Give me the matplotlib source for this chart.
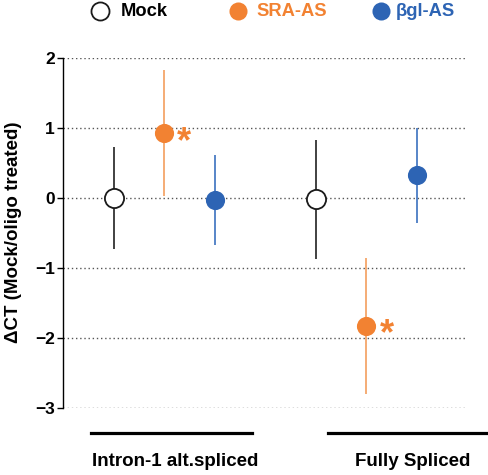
import matplotlib
matplotlib.use('Agg')
import matplotlib.pyplot as plt
from matplotlib.lines import Line2D
import matplotlib.transforms as mtransforms

plt.rcParams['font.family'] = ['Liberation Sans', 'DejaVu Sans']
plt.rcParams['font.weight'] = 'bold'

# dados
grupos = ['Intron-1 alt.spliced', 'Fully Spliced']
series = ['Mock', 'SRA-AS', 'βgl-AS']
mock_media = [0.0, -0.02]
mock_erro = [0.73, 0.85]
sra_media = [0.92, -1.83]
sra_erro = [0.90, 0.97]
bgl_media = [-0.03, 0.32]
bgl_erro = [0.64, 0.68]
significativo = [(1, 0), (1, 1)]  # (serie, grupo) com asterisco
yticks = [2, 1, 0, -1, -2, -3]

medias = [mock_media, sra_media, bgl_media]
erros = [mock_erro, sra_erro, bgl_erro]
cor_marcador = ['white', '#F28232', '#2D64B4']
cor_borda = ['#1a1a1a', '#F28232', '#2D64B4']
cor_barra = ['#333333', '#F5A66A', '#4A7CC4']
cor_texto = ['black', '#F28232', '#2D64B4']

centros = [2, 6]

fig = plt.figure(figsize=(4.89, 4.75), dpi=100)
ax = fig.add_axes([63 / 489, 1 - 407.7 / 475, (465 - 63) / 489, 350 / 475])

for y in yticks:
    ax.axhline(y, color='#555555', lw=1.0, ls=(0, (1, 2)), zorder=0)

for i in range(len(series)):
    xs = [c + (i - 1) for c in centros]
    ax.errorbar(xs, medias[i], yerr=erros[i], fmt='none', ecolor=cor_barra[i],
                elinewidth=1.3, capsize=0, zorder=2, clip_on=False)
    ax.plot(xs, medias[i], 'o', ms=13.8, mfc=cor_marcador[i], mec=cor_borda[i],
            mew=1.3 if i == 0 else 0, zorder=3, clip_on=False)

for s, g in significativo:
    x = centros[g] + (s - 1)
    ax.annotate('*', (x, medias[s][g]), xytext=(9.5, -6.5), textcoords='offset points',
                color=cor_texto[s], fontsize=26, fontweight='bold', ha='left', va='center')

ax.set_xlim(0, 7.95)
ax.set_ylim(-3, 2)
ax.set_yticks(yticks)
ax.set_yticklabels([f'{v:d}'.replace('-', '\u2212') for v in yticks],
                   fontsize=12.5, fontweight='bold')
ax.set_xticks([])
for lado in ['top', 'right', 'bottom']:
    ax.spines[lado].set_visible(False)
ax.spines['left'].set_linewidth(1.0)
ax.tick_params(axis='y', length=4, width=1.0, pad=2)
ax.set_ylabel('\u0394CT (Mock/oligo treated)', fontsize=13.5, fontweight='bold')
ax.yaxis.set_label_coords(-0.103, 0.5)

# linhas e rótulos dos grupos
trans = mtransforms.blended_transform_factory(ax.transData, ax.transAxes)
faixas = [(0.55, 3.73), (5.24, 8.4)]
pos_rotulo = [2.21, 6.92]
for (a, b), xr, nome in zip(faixas, pos_rotulo, grupos):
    ax.plot([a, b], [-0.073, -0.073], color='black', lw=2.3, transform=trans, clip_on=False)
    ax.text(xr, -0.154, nome, transform=trans, ha='center', va='center',
            fontsize=13.5, fontweight='bold')

# legenda no topo
leg_x = [100 / 489, 237.7 / 489, 381 / 489]
txt_x = [121 / 489, 256 / 489, 395.7 / 489]
leg_y = 1 - 10.5 / 475
for i in range(len(series)):
    fig.add_artist(Line2D([leg_x[i]], [leg_y], marker='o', ms=13, mfc=cor_marcador[i],
                          mec=cor_borda[i], mew=1.3 if i == 0 else 0, transform=fig.transFigure))
    fig.text(txt_x[i], leg_y - 0.003, series[i], color=cor_texto[i], fontsize=13.2,
             fontweight='bold', ha='left', va='center')

fig.savefig('out.png', dpi=100)
